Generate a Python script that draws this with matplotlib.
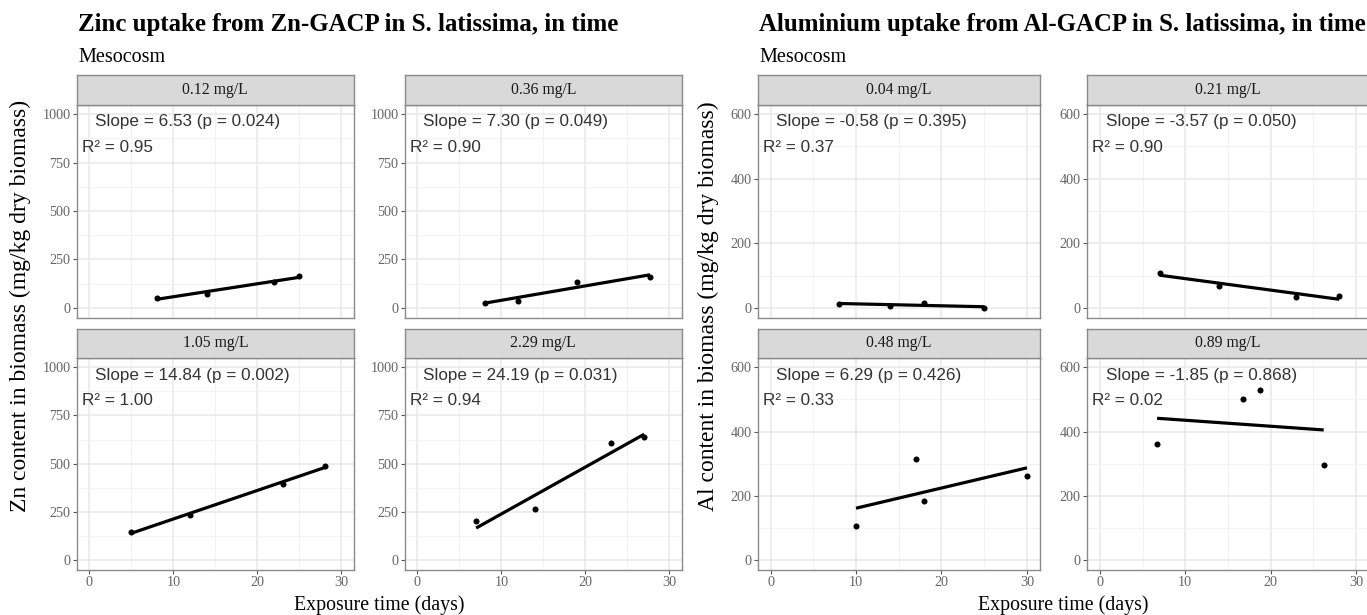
import numpy as np
import matplotlib
matplotlib.use("Agg")
import matplotlib.pyplot as plt
from matplotlib.ticker import MultipleLocator

plt.rcParams['font.family'] = ['Liberation Serif', 'DejaVu Serif']

# ---------------- data ----------------
zn_conc = ["0.12 mg/L", "0.36 mg/L", "1.05 mg/L", "2.29 mg/L"]
zn_days = [[8, 14, 22, 25], [8, 12, 19, 27.7], [5, 12, 23, 28], [7, 14, 23, 27]]
zn_values = [[53, 71, 133, 166], [26, 36, 133, 159], [146, 235, 395, 490], [203, 263, 607, 637]]
zn_slope_labels = ["Slope = 6.53 (p = 0.024)", "Slope = 7.30 (p = 0.049)",
                   "Slope = 14.84 (p = 0.002)", "Slope = 24.19 (p = 0.031)"]
zn_r2_labels = ["R\u00b2 = 0.95", "R\u00b2 = 0.90", "R\u00b2 = 1.00", "R\u00b2 = 0.94"]
zn_yticks = [0, 250, 500, 750, 1000]

al_conc = ["0.04 mg/L", "0.21 mg/L", "0.48 mg/L", "0.89 mg/L"]
al_days = [[8, 14, 18, 25], [7, 14, 23, 28], [10, 17, 18, 30], [6.7, 16.7, 18.7, 26.2]]
al_values = [[13, 5, 16, 0], [109, 68, 34, 37], [107, 315, 183, 260], [361, 500, 530, 297]]
al_slope_labels = ["Slope = -0.58 (p = 0.395)", "Slope = -3.57 (p = 0.050)",
                   "Slope = 6.29 (p = 0.426)", "Slope = -1.85 (p = 0.868)"]
al_r2_labels = ["R\u00b2 = 0.37", "R\u00b2 = 0.90", "R\u00b2 = 0.33", "R\u00b2 = 0.02"]
al_yticks = [0, 200, 400, 600]

x_ticks = [0, 10, 20, 30]

titles = ["Zinc uptake from Zn-GACP in S. latissima, in time",
          "Aluminium uptake from Al-GACP in S. latissima, in time"]
subtitle = "Mesocosm"
ylabels = ["Zn content in biomass (mg/kg dry biomass)",
           "Al content in biomass (mg/kg dry biomass)"]
xlabel = "Exposure time (days)"

# ---------------- layout ----------------
W, H = 1367, 615
fig = plt.figure(figsize=(W / 100, H / 100), dpi=100)
fig.patch.set_facecolor('white')


def rect(l, r, t, b):
    return [l / W, 1 - b / H, (r - l) / W, (b - t) / H]


BORDER = '#8a8a8a'
TICKC = '#555555'
GRID_MAJ = '#e8e8e8'
GRID_MIN = '#f2f2f2'

cols_px = {
    'zn': [(76.7, 354.0), (404.7, 682.0)],
    'al': [(757.7, 1039.8), (1087.0, 1369.0)],
}
rows_px = [(75.0, 104.5, 317.5), (329.0, 357.7, 569.6)]

groups = [
    ('zn', zn_conc, zn_days, zn_values, zn_slope_labels, zn_r2_labels, zn_yticks, 1000, 125),
    ('al', al_conc, al_days, al_values, al_slope_labels, al_r2_labels, al_yticks, 600, 100),
]

for gi, (key, conc, days, vals, sl, r2, yt, ymax, yminor) in enumerate(groups):
    for i in range(4):
        r, c = divmod(i, 2)
        l, rr = cols_px[key][c]
        st, pt, pb = rows_px[r]
        ax = fig.add_axes(rect(l, rr, pt, pb))
        pad = 0.05 * ymax
        ax.set_xlim(-1.5, 31.5)
        ax.set_ylim(-pad, ymax + pad)
        ax.set_xticks(x_ticks)
        ax.xaxis.set_minor_locator(MultipleLocator(5))
        ax.set_yticks(yt)
        ax.yaxis.set_minor_locator(MultipleLocator(yminor))
        ax.grid(True, which='major', color=GRID_MAJ, lw=1.1, zorder=0)
        ax.grid(True, which='minor', color=GRID_MIN, lw=0.7, zorder=0)
        ax.set_axisbelow(True)
        ax.tick_params(which='minor', length=0)
        ax.tick_params(which='major', length=3, color=TICKC, width=0.8,
                       labelsize=10.2, labelcolor='#666666', pad=1.5)
        if r == 0:
            ax.tick_params(axis='x', which='major', labelbottom=False, length=0)
        for s in ax.spines.values():
            s.set_color(BORDER)
            s.set_linewidth(1.0)
        x = np.array(days[i], dtype=float)
        y = np.array(vals[i], dtype=float)
        k, b0 = np.polyfit(x, y, 1)
        xs = np.array([x.min(), x.max()])
        ax.plot(xs, k * xs + b0, color='black', lw=2.3, zorder=3, solid_capstyle='butt')
        ax.scatter(x, y, s=19, color='black', zorder=4, linewidths=0)
        ax.text(0.066, 0.918, sl[i], transform=ax.transAxes, ha='left', va='center',
                fontsize=12.3, color='#333333', family=['Liberation Sans', 'DejaVu Sans'])
        ax.text(0.019, 0.796, r2[i], transform=ax.transAxes, ha='left', va='center',
                fontsize=12.3, color='#333333', family=['Liberation Sans', 'DejaVu Sans'])
        # strip
        sax = fig.add_axes(rect(l, rr, st, pt))
        sax.set_facecolor('#d9d9d9')
        sax.set_xticks([])
        sax.set_yticks([])
        for s in sax.spines.values():
            s.set_color(BORDER)
            s.set_linewidth(1.0)
        sax.text(0.5, 0.5, conc[i], transform=sax.transAxes, ha='center', va='center',
                 fontsize=11.3, color='#1a1a1a')

    left = cols_px[key][0][0]
    right = cols_px[key][1][1]
    fig.text((left + 1.5) / W, 1 - 31.5 / H, titles[gi], fontsize=17.9, fontweight='bold',
             ha='left', va='baseline', color='black')
    fig.text((left + 1.5) / W, 1 - 61.5 / H, subtitle, fontsize=14.5, ha='left',
             va='baseline', color='black')
    fig.text(((left + right) / 2) / W, 1 - 605 / H, xlabel, fontsize=14.3, ha='center',
             va='center', color='black')
    ylx = 20 if key == 'zn' else 708
    fig.text(ylx / W, 1 - 306 / H, ylabels[gi], fontsize=17, rotation=90, ha='center',
             va='center', color='black')

fig.savefig('out.png', dpi=100, facecolor='white')
